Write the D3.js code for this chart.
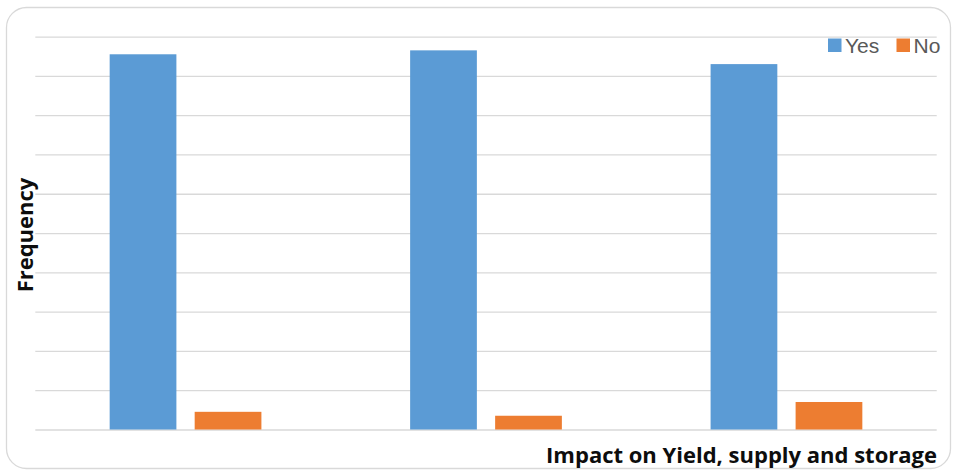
<!DOCTYPE html>
<html>
<head>
<meta charset="utf-8">
<script src="https://cdn.jsdelivr.net/npm/d3@7/dist/d3.min.js"></script>
<style>
  html, body { margin: 0; padding: 0; background: #ffffff; }
  svg { display: block; }
</style>
</head>
<body>
<svg id="chart" width="955" height="471"></svg>
<script>
// Groups along the x axis (no tick labels are shown)
const categories = ["1", "2", "3"];
// Series names, in legend order
const seriesNames = ["Yes", "No"];
// Share of responses per group, in percent
const yesValues = [95.5, 96.5, 93.0];
const noValues = [4.5, 3.5, 7.0];
// Gridline values
const gridTicks = [0, 10, 20, 30, 40, 50, 60, 70, 80, 90, 100];

const colors = { Yes: "#5b9bd5", No: "#ed7d31" };
const rows = categories.map((c, i) => ({ category: c, Yes: yesValues[i], No: noValues[i] }));

const svg = d3.select("#chart");
const plot = { left: 35.3, right: 936.7, top: 36.6, bottom: 429.5 };

// Chart frame with rounded corners
svg.append("rect")
  .attr("x", 6.5).attr("y", 7.5)
  .attr("width", 944).attr("height", 461)
  .attr("rx", 20).attr("ry", 20)
  .attr("fill", "#ffffff")
  .attr("stroke", "#d9d9d9")
  .attr("stroke-width", 1.3);

const x0 = d3.scaleBand().domain(categories).range([plot.left, plot.right]).padding(0);
const groupW = x0.bandwidth() * 0.505;
const x1 = d3.scaleBand().domain(seriesNames).range([0, groupW]).paddingInner(0.215).paddingOuter(0);
const groupOffset = (x0.bandwidth() - groupW) / 2;

const y = d3.scaleLinear().domain([0, 100]).range([plot.bottom, plot.top]);

// Horizontal gridlines
const yAxis = d3.axisLeft(y).tickValues(gridTicks)
  .tickSize(-(plot.right - plot.left)).tickFormat("");
const gGrid = svg.append("g")
  .attr("transform", `translate(${plot.left},0)`)
  .call(yAxis);
gGrid.select(".domain").remove();
gGrid.selectAll(".tick line")
  .attr("stroke", "#d9d9d9")
  .attr("stroke-width", 1.3);

// Clustered bars
const groups = svg.append("g").selectAll("g")
  .data(rows).join("g")
  .attr("transform", d => `translate(${x0(d.category) + groupOffset},0)`);

groups.selectAll("rect")
  .data(d => seriesNames.map(k => ({ key: k, value: d[k] })))
  .join("rect")
  .attr("x", d => x1(d.key))
  .attr("y", d => y(d.value))
  .attr("width", x1.bandwidth())
  .attr("height", d => y(0) - y(d.value))
  .attr("fill", d => colors[d.key]);

// Legend
const legend = svg.append("g").attr("font-family", "'Liberation Sans', Arial, sans-serif")
  .attr("font-size", 21).attr("fill", "#595959");
const legendItems = [
  { key: "Yes", x: 828 },
  { key: "No", x: 896.5 }
];
legendItems.forEach(it => {
  legend.append("rect")
    .attr("x", it.x).attr("y", 38.5)
    .attr("width", 13.5).attr("height", 13.5)
    .attr("fill", colors[it.key]);
  legend.append("text")
    .attr("x", it.x + 17).attr("y", 52.5)
    .text(it.key);
});

// Axis titles
svg.append("text")
  .attr("x", 937).attr("y", 462.5)
  .attr("text-anchor", "end")
  .attr("font-family", "'Open Sans', 'Liberation Sans', sans-serif")
  .attr("font-weight", "bold")
  .attr("font-size", 22)
  .attr("fill", "#0d0d0d")
  .text("Impact on Yield, supply and storage");

svg.append("text")
  .attr("transform", "translate(33,235) rotate(-90)")
  .attr("text-anchor", "middle")
  .attr("font-family", "'Open Sans', 'Liberation Sans', sans-serif")
  .attr("font-weight", "bold")
  .attr("font-size", 22)
  .attr("fill", "#0d0d0d")
  .text("Frequency");
</script>
</body>
</html>
